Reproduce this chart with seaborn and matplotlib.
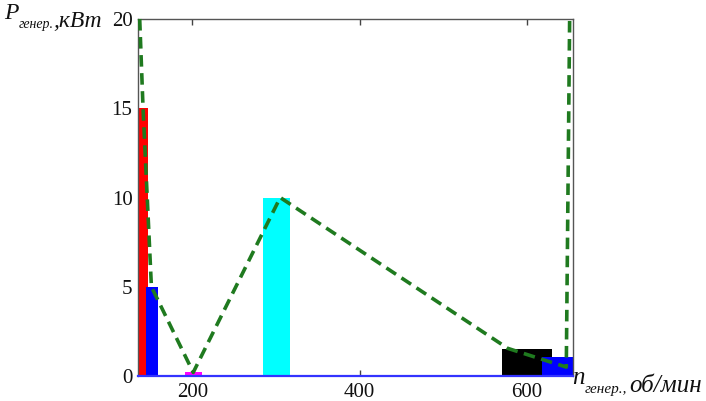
import numpy as np
import pandas as pd
import matplotlib
matplotlib.use("Agg")
import matplotlib.pyplot as plt
import seaborn as sns

# bars: centre, width, height (об/мин, кВт)
bar_x = [141, 151.5, 201, 301, 600, 640]
bar_w = [13, 15, 20, 32, 60, 45]
bar_h = [15, 5, 0.25, 10, 1.5, 1.05]
bar_c = ["#ff0000", "#0000ff", "#ff00ff", "#00ffff", "#000000", "#0000ff"]

# dashed green line
line_x = [137, 141, 151, 201, 305, 577, 647, 651]
line_y = [20, 15, 5, 0.2, 10, 1.55, 0.5, 20]

x_ticks = [200, 400, 600]
y_ticks = [0, 5, 10, 15, 20]

sns.set_theme(style="white")
plt.rcParams["font.family"] = ["Liberation Serif", "DejaVu Serif"]

fig = plt.figure(figsize=(7.06, 4.01), dpi=100)
ax = fig.add_axes([0.1955, 0.0623, 0.6155, 0.8903])

ax.bar(bar_x, bar_h, width=bar_w, color=bar_c, linewidth=0, zorder=2)

df = pd.DataFrame({"n": line_x, "P": line_y})
sns.lineplot(data=df, x="n", y="P", sort=False, ax=ax, color="#1f7a1f",
             linewidth=2.6, zorder=3, clip_on=False)
ax.lines[-1].set_dashes([3.2, 1.8])

ax.set_xlim(135, 654.5)
ax.set_ylim(0, 20)
ax.set_xticks(x_ticks)
ax.set_yticks(y_ticks)
ax.set_xlabel("")
ax.set_ylabel("")
ax.tick_params(axis="x", direction="in", top=True, bottom=True, length=4,
               width=1, color="#444444", labelsize=15, pad=5)
ax.tick_params(axis="y", direction="in", length=0, labelsize=15, pad=4)
for lab in ax.get_xticklabels() + ax.get_yticklabels():
    lab.set_color("#111111")

for s in ["left", "top", "right"]:
    ax.spines[s].set_color("#555555")
    ax.spines[s].set_linewidth(1.0)
ax.spines["bottom"].set_color("#3333ff")
ax.spines["bottom"].set_linewidth(1.6)

# y axis label: P_генер.,кВт
t1 = fig.text(0.006, 0.952, "P", fontsize=17, style="italic", color="#111111",
              va="baseline")
t2 = ax.annotate("генер.", xy=(1, 0), xycoords=t1, xytext=(0, -3),
                 textcoords="offset points", fontsize=10, style="italic",
                 va="baseline", color="#111111", annotation_clip=False)
ax.annotate(",кВт", xy=(1, 0), xycoords=t2, xytext=(0, 3),
            textcoords="offset points", fontsize=17, style="italic",
            va="baseline", color="#111111", annotation_clip=False)

# x axis label: n_генер.,об/мин
t3 = fig.text(0.811, 0.042, "n", fontsize=18, style="italic", color="#111111",
              va="baseline")
t4 = ax.annotate("генер.,", xy=(1, 0), xycoords=t3, xytext=(0, -3),
                 textcoords="offset points", fontsize=11, style="italic",
                 va="baseline", color="#111111", annotation_clip=False)
ax.annotate("об/мин", xy=(1, 0), xycoords=t4, xytext=(1, 3),
            textcoords="offset points", fontsize=18, style="italic",
            va="baseline", color="#111111", annotation_clip=False)

fig.savefig("out.png", dpi=100)
